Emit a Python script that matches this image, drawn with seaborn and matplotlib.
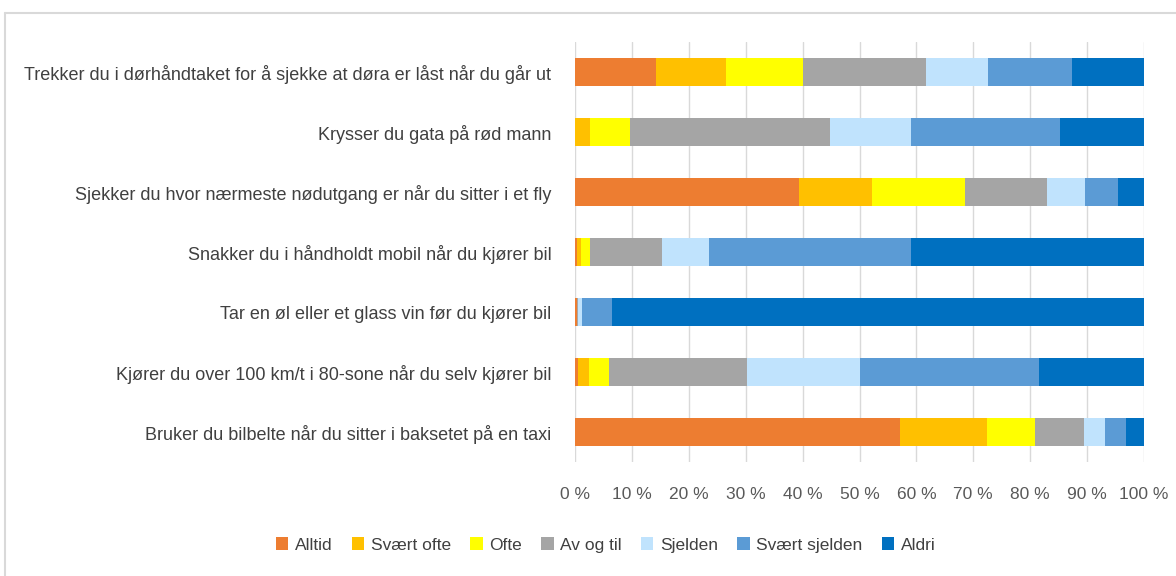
import numpy as np
import pandas as pd
import matplotlib
matplotlib.use("Agg")
import matplotlib.pyplot as plt
import seaborn as sns
from matplotlib.lines import Line2D
from matplotlib.patches import Patch

questions = [
    "Trekker du i dørhåndtaket for å sjekke at døra er låst når du går ut",
    "Krysser du gata på rød mann",
    "Sjekker du hvor nærmeste nødutgang er når du sitter i et fly",
    "Snakker du i håndholdt mobil når du kjører bil",
    "Tar en øl eller et glass vin før du kjører bil",
    "Kjører du over 100 km/t i 80-sone når du selv kjører bil",
    "Bruker du bilbelte når du sitter i baksetet på en taxi",
]
categories = ["Alltid", "Svært ofte", "Ofte", "Av og til", "Sjelden", "Svært sjelden", "Aldri"]

alltid        = [14.2, 0.0, 39.4, 0.3, 0.3, 0.5, 57.1]
svaert_ofte   = [12.4, 2.7, 12.8, 0.7, 0.0, 2.0, 15.3]
ofte          = [13.4, 7.0, 16.3, 1.7, 0.0, 3.5, 8.4]
av_og_til     = [21.7, 35.1, 14.4, 12.6, 0.3, 24.3, 8.7]
sjelden       = [10.9, 14.3, 6.8, 8.3, 0.7, 19.8, 3.7]
svaert_sjelden = [14.7, 26.2, 5.8, 35.5, 5.2, 31.4, 3.6]
aldri         = [12.7, 14.7, 4.5, 40.9, 93.5, 18.5, 3.2]

colors = ["#ED7D31", "#FFC000", "#FFFF00", "#A5A5A5", "#C0E3FD", "#5B9BD5", "#0070C0"]
tick_vals = [0, 10, 20, 30, 40, 50, 60, 70, 80, 90, 100]

series = [alltid, svaert_ofte, ofte, av_og_til, sjelden, svaert_sjelden, aldri]
df = pd.DataFrame(np.array(series).T, columns=categories)
df.insert(0, "question", questions)
vals = df[categories].to_numpy()
totals = vals.sum(axis=1, keepdims=True)
pct = vals / totals * 100
cum = np.cumsum(pct, axis=1)

sns.set_style("white")
plt.rcParams["font.family"] = ["Liberation Sans", "DejaVu Sans"]

fig = plt.figure(figsize=(11.76, 5.76), dpi=100)
ax = fig.add_axes([575 / 1176, 1 - 462 / 576, (1144 - 575) / 1176, 420 / 576])

for ax_i in range(len(tick_vals)):
    ax.axvline(tick_vals[ax_i], color="#D9D9D9", lw=1.0, zorder=0)

for i in reversed(range(len(categories))):
    d = pd.DataFrame({"question": questions, "value": cum[:, i]})
    sns.barplot(data=d, y="question", x="value", orient="h", color=colors[i],
                saturation=1, width=0.46, linewidth=0, ax=ax, zorder=2)

ax.set_xlim(0, 100)
ax.set_ylim(6.5, -0.5)
ax.set_xticks(tick_vals)
ax.set_xticklabels([f"{v} %" for v in tick_vals], fontsize=12.5, color="#595959")
ax.tick_params(axis="x", length=0, pad=18)
ax.tick_params(axis="y", length=0, pad=17, labelsize=13, labelcolor="#404040")
ax.set_xlabel("")
ax.set_ylabel("")
for s in ax.spines.values():
    s.set_visible(False)

handles = [Patch(facecolor=c, edgecolor="none") for c in colors]
fig.legend(handles, categories, loc="center", bbox_to_anchor=(606 / 1176, 1 - 545 / 576),
           ncol=7, frameon=False, fontsize=12.5, labelcolor="#404040",
           handlelength=0.7, handleheight=0.7, handletextpad=0.4, columnspacing=1.1)

fig.add_artist(Line2D([5 / 1176, 5 / 1176], [0, 1 - 13 / 576], transform=fig.transFigure,
                      color="#D9D9D9", lw=1.5))
fig.add_artist(Line2D([5 / 1176, 1], [1 - 13 / 576, 1 - 13 / 576], transform=fig.transFigure,
                      color="#D9D9D9", lw=1.5))

fig.savefig("out.png", dpi=100)
